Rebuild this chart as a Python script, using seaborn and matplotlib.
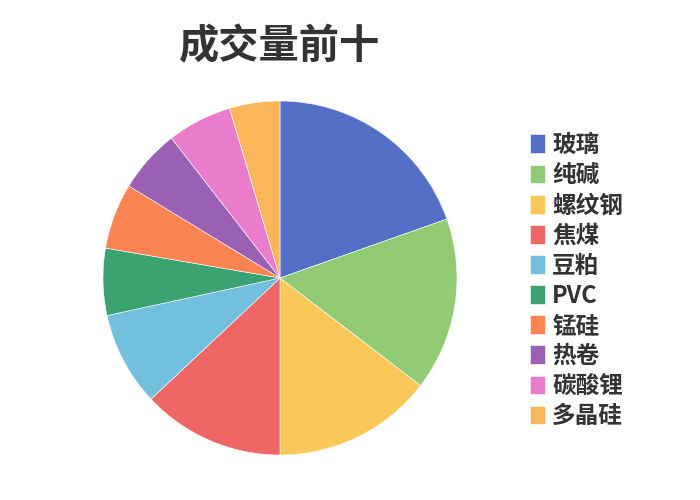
import matplotlib
matplotlib.use("Agg")
import matplotlib.pyplot as plt
import seaborn as sns

# data (share of volume, per mille)
names = ['玻璃', '纯碱', '螺纹钢', '焦煤', '豆粕', 'PVC', '锰硅', '热卷', '碳酸锂', '多晶硅']
volumes = [196, 158, 146, 130, 86, 61, 60, 58, 59, 46]
colors = ['#5470c6', '#91cc75', '#fac858', '#ee6666', '#73c0de',
          '#3ba272', '#fc8452', '#9a60b4', '#ea7ccc', '#fcb65a']

sns.set_theme(style='white')
plt.rcParams['font.family'] = ['Noto Sans CJK SC', 'DejaVu Sans']

fig = plt.figure(figsize=(7, 5), dpi=100)
# pie: centre (280, 278) px, radius ~177 px
ax = fig.add_axes([103 / 700, 45 / 500, 354 / 700, 354 / 500])
wedges, _ = ax.pie(volumes, colors=sns.color_palette(colors), startangle=90,
                   counterclock=False, radius=1.0,
                   wedgeprops=dict(linewidth=0.4, edgecolor='white'))
ax.set_xlim(-1.0, 1.0)
ax.set_ylim(-1.0, 1.0)
ax.set_aspect('equal')
ax.axis('off')

fig.text(280 / 700, 1 - 47 / 500, '成交量前十', ha='center', va='center',
         fontsize=29, fontweight='bold', color='#333333')

leg = fig.legend(wedges, names, loc='upper left',
                 bbox_to_anchor=(530 / 700, 1 - 133 / 500),
                 frameon=False, fontsize=17, handlelength=0.64,
                 handleheight=0.85, handletextpad=0.3, labelspacing=0.26,
                 borderaxespad=0, borderpad=0)
for t in leg.get_texts():
    t.set_fontweight('bold')
    t.set_color('#333333')

fig.savefig('out.png', dpi=100)
